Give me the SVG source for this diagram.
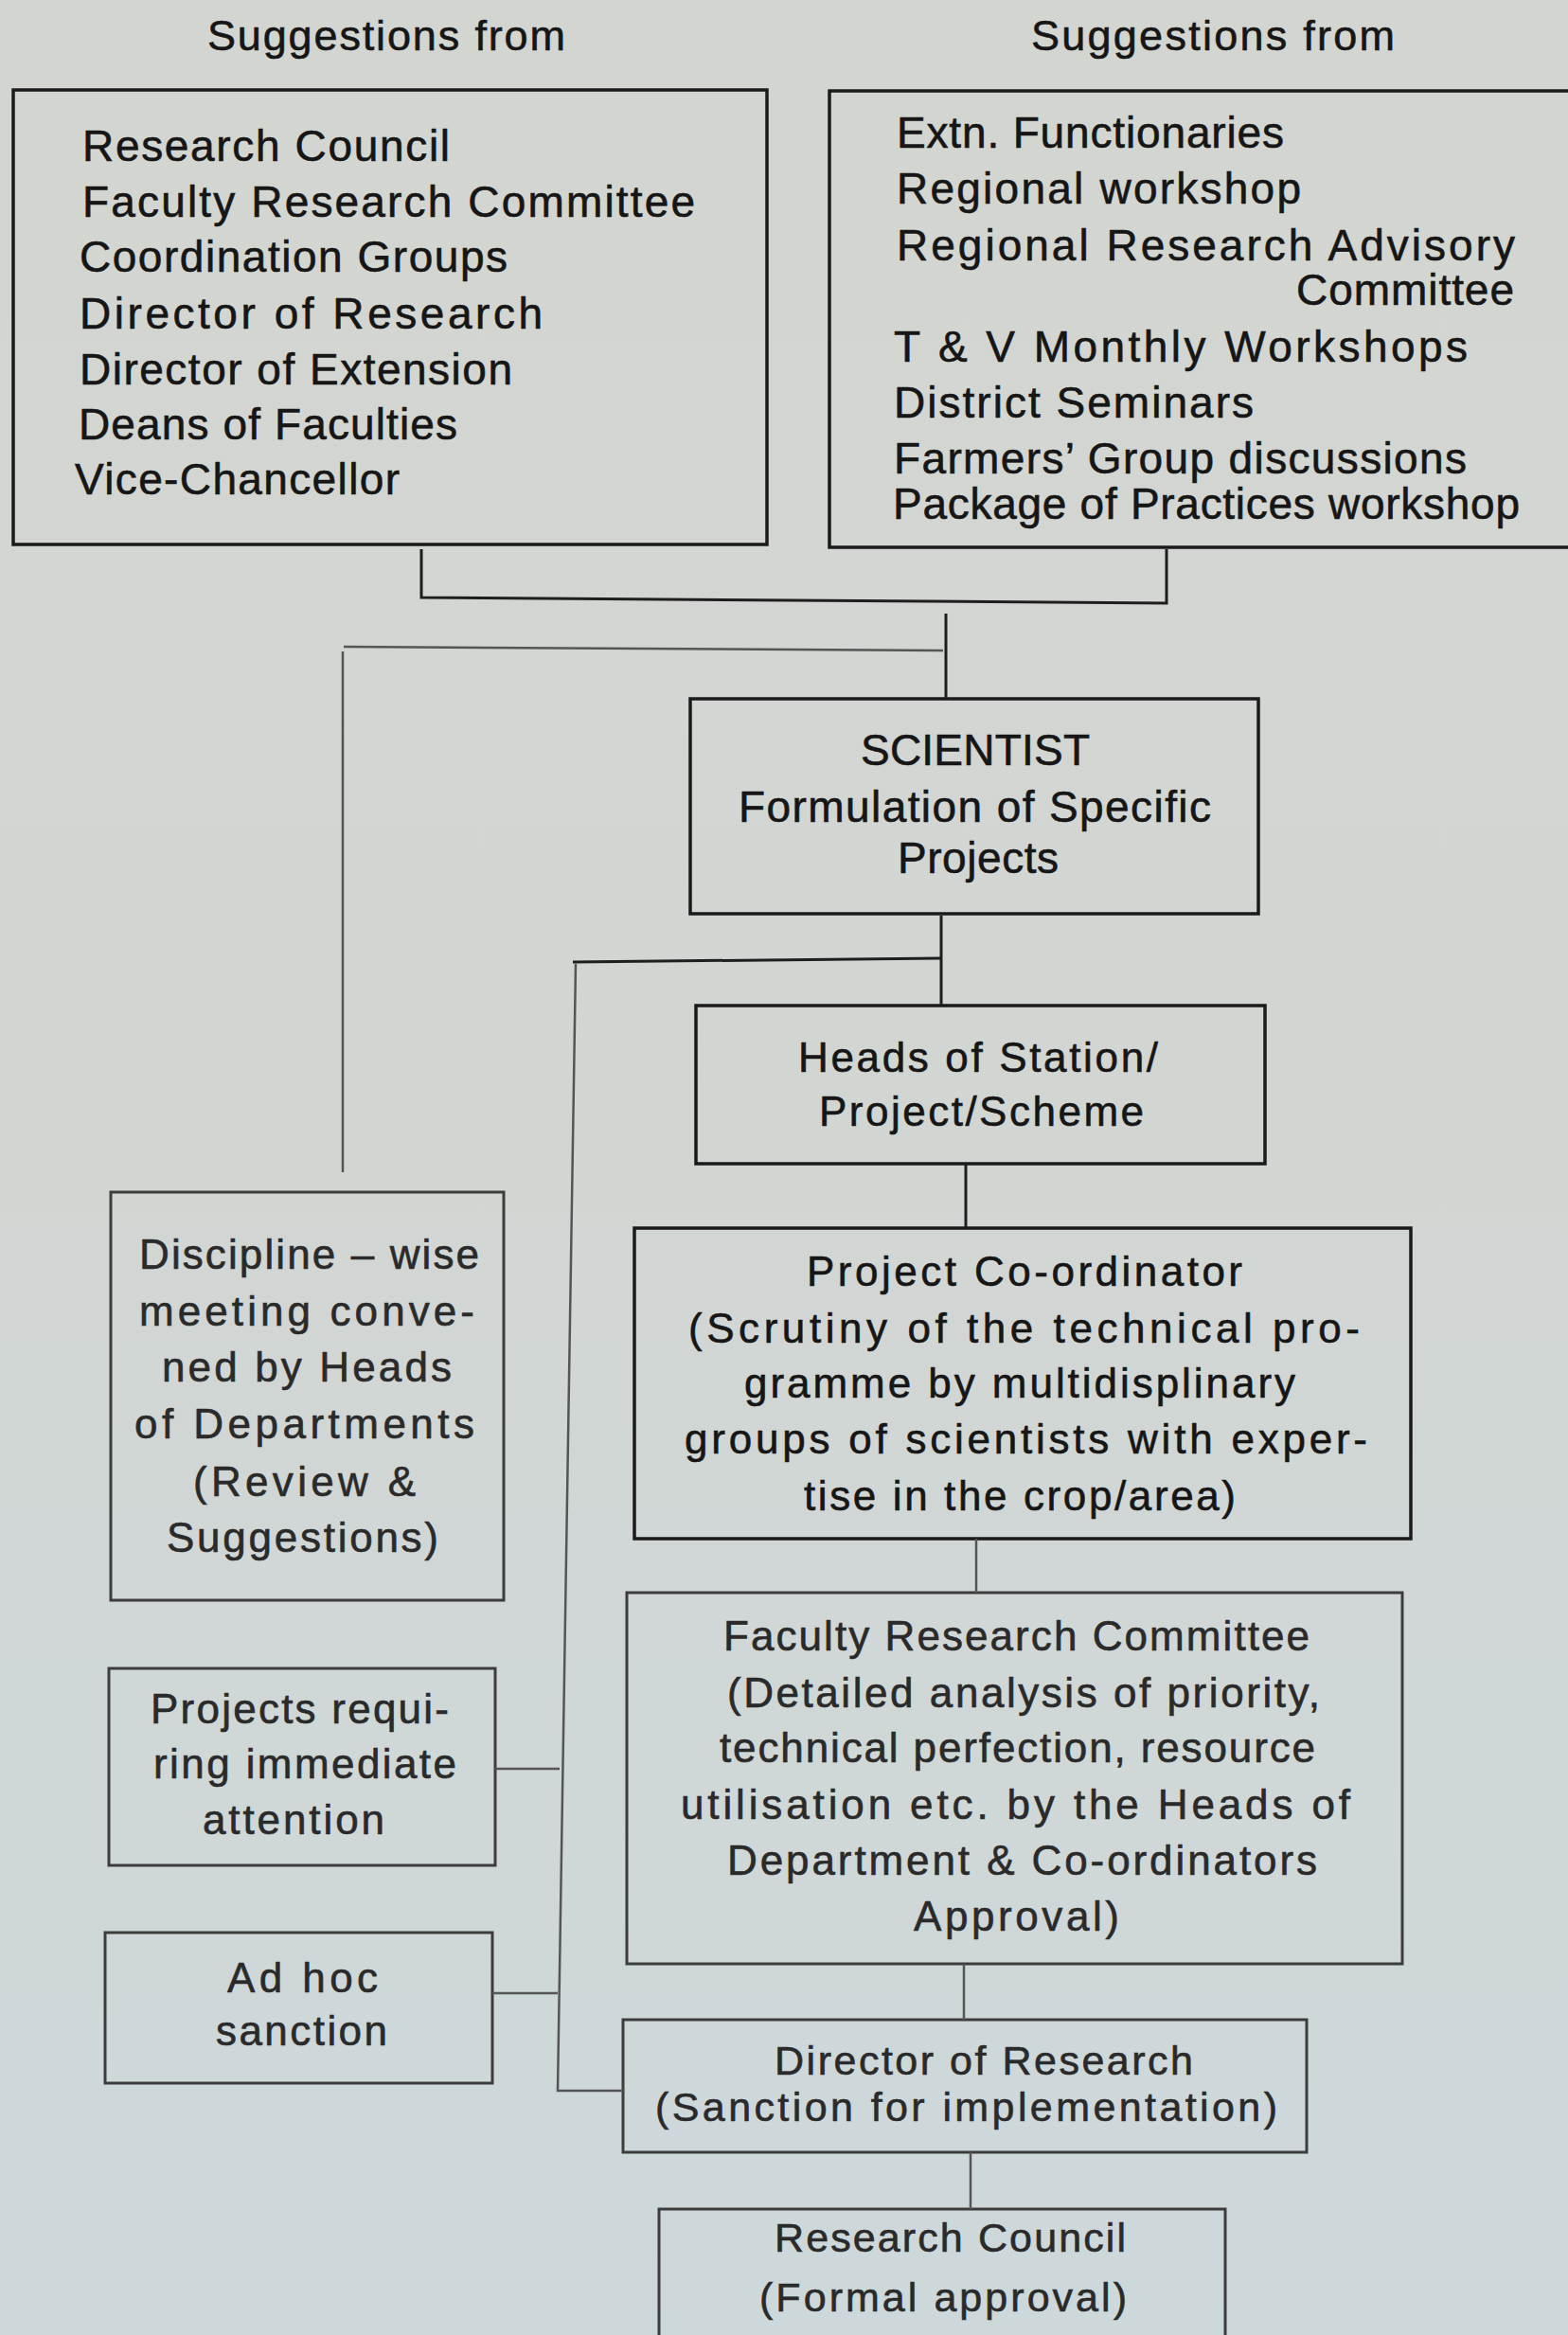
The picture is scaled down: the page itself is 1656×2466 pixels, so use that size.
<svg xmlns="http://www.w3.org/2000/svg" width="1656" height="2466" viewBox="0 0 1656 2466">
<defs>
<linearGradient id="bg" x1="0" y1="0" x2="0" y2="1">
<stop offset="0" stop-color="#d3d5d0"/>
<stop offset="0.5" stop-color="#d2d6d3"/>
<stop offset="1" stop-color="#cdd8db"/>
</linearGradient>
<style>
text{font-family:"Liberation Sans",Arial,Helvetica,sans-serif;fill:#161616;stroke:#161616;stroke-width:0.6;}
.t{font-size:45px;}
.l{font-size:46px;}
.m{font-size:44px;}
.s{font-size:43px;}
.lo{fill:#2a2a2a;stroke:#2a2a2a;}
.box{fill:none;stroke:#1a1a1a;stroke-width:3.5;}
.box2{fill:none;stroke:#3c3c3c;stroke-width:3;}
.con{fill:none;stroke:#1e1e1e;stroke-width:3;}
.con2{fill:none;stroke:#555;stroke-width:2.5;}
</style>
</defs>
<rect x="0" y="0" width="1656" height="2466" fill="url(#bg)"/>

<g id="title-left"><text class="t" x="219" y="53" textLength="378" lengthAdjust="spacing">Suggestions from</text></g>
<g id="title-right"><text class="t" x="1089" y="53" textLength="384" lengthAdjust="spacing">Suggestions from</text></g>

<g id="sources-university">
<rect class="box" x="14" y="95" width="796" height="480"/>
<text class="l" x="87" y="170" textLength="388" lengthAdjust="spacing">Research  Council</text>
<text class="l" x="87" y="229" textLength="647" lengthAdjust="spacing">Faculty  Research  Committee</text>
<text class="l" x="84" y="287" textLength="452" lengthAdjust="spacing">Coordination Groups</text>
<text class="l" x="84" y="347" textLength="489" lengthAdjust="spacing">Director   of   Research</text>
<text class="l" x="84" y="406" textLength="457" lengthAdjust="spacing">Director of  Extension</text>
<text class="l" x="83" y="464" textLength="400" lengthAdjust="spacing">Deans of Faculties</text>
<text class="l" x="79" y="522" textLength="343" lengthAdjust="spacing">Vice-Chancellor</text>
</g>

<g id="sources-extension">
<path class="box" d="M1680,96 H876 V578 H1680"/>
<text class="l" x="947" y="156" textLength="409" lengthAdjust="spacing">Extn. Functionaries</text>
<text class="l" x="947" y="215" textLength="427" lengthAdjust="spacing">Regional  workshop</text>
<text class="l" x="947" y="275" textLength="653" lengthAdjust="spacing">Regional   Research   Advisory</text>
<text class="l" x="1369" y="322" textLength="230" lengthAdjust="spacing">Committee</text>
<text class="l" x="944" y="382" textLength="606" lengthAdjust="spacing">T &amp; V Monthly  Workshops</text>
<text class="l" x="944" y="441" textLength="380" lengthAdjust="spacing">District  Seminars</text>
<text class="l" x="944" y="500" textLength="605" lengthAdjust="spacing">Farmers’  Group discussions</text>
<text class="l" x="943" y="548" textLength="662" lengthAdjust="spacing">Package of Practices workshop</text>
</g>

<g id="scientist">
<rect class="box" x="729" y="738" width="600" height="227"/>
<text class="l" x="909" y="808" textLength="242" lengthAdjust="spacing">SCIENTIST</text>
<text class="l" x="780" y="868" textLength="499" lengthAdjust="spacing">Formulation of Specific</text>
<text class="l" x="948" y="922" textLength="170" lengthAdjust="spacing">Projects</text>
</g>

<g id="heads">
<rect class="box" x="735" y="1062" width="601" height="167"/>
<text class="m" x="843" y="1132" textLength="380" lengthAdjust="spacing">Heads of Station/</text>
<text class="m" x="865" y="1189" textLength="343" lengthAdjust="spacing">Project/Scheme</text>
</g>

<g id="project-coordinator">
<rect class="box" x="670" y="1297" width="820" height="328"/>
<text class="m" x="852" y="1358" textLength="460" lengthAdjust="spacing">Project  Co-ordinator</text>
<text class="m" x="727" y="1418" textLength="709" lengthAdjust="spacing">(Scrutiny  of  the technical  pro-</text>
<text class="m" x="786" y="1476" textLength="582" lengthAdjust="spacing">gramme by multidisplinary</text>
<text class="m" x="723" y="1535" textLength="721" lengthAdjust="spacing">groups  of scientists with  exper-</text>
<text class="m" x="849" y="1595" textLength="456" lengthAdjust="spacing">tise in the crop/area)</text>
</g>

<g id="discipline-meeting">
<rect class="box2" x="117" y="1259" width="415" height="431"/>
<text class="m lo" x="147" y="1340" textLength="359" lengthAdjust="spacing">Discipline – wise</text>
<text class="m lo" x="147" y="1400" textLength="354" lengthAdjust="spacing">meeting  conve-</text>
<text class="m lo" x="171" y="1459" textLength="306" lengthAdjust="spacing">ned by Heads</text>
<text class="m lo" x="142" y="1519" textLength="359" lengthAdjust="spacing">of  Departments</text>
<text class="m lo" x="204" y="1580" textLength="235" lengthAdjust="spacing">(Review &amp;</text>
<text class="m lo" x="176" y="1639" textLength="287" lengthAdjust="spacing">Suggestions)</text>
</g>

<g id="faculty-research-committee">
<rect class="box2" x="662" y="1682" width="819" height="392"/>
<text class="m lo" x="764" y="1743" textLength="619" lengthAdjust="spacing">Faculty Research Committee</text>
<text class="m lo" x="768" y="1803" textLength="626" lengthAdjust="spacing">(Detailed analysis of priority,</text>
<text class="m lo" x="760" y="1861" textLength="629" lengthAdjust="spacing">technical perfection, resource</text>
<text class="m lo" x="719" y="1921" textLength="707" lengthAdjust="spacing">utilisation  etc.  by  the Heads of</text>
<text class="m lo" x="768" y="1980" textLength="623" lengthAdjust="spacing">Department &amp; Co-ordinators</text>
<text class="m lo" x="965" y="2039" textLength="217" lengthAdjust="spacing">Approval)</text>
</g>

<g id="projects-immediate">
<rect class="box2" x="115" y="1762" width="408" height="208"/>
<text class="m lo" x="159" y="1820" textLength="315" lengthAdjust="spacing">Projects  requi-</text>
<text class="m lo" x="162" y="1878" textLength="320" lengthAdjust="spacing">ring immediate</text>
<text class="m lo" x="214" y="1937" textLength="192" lengthAdjust="spacing">attention</text>
</g>

<g id="ad-hoc">
<rect class="box2" x="111" y="2041" width="409" height="159"/>
<text class="m lo" x="240" y="2104" textLength="159" lengthAdjust="spacing">Ad hoc</text>
<text class="m lo" x="228" y="2160" textLength="181" lengthAdjust="spacing">sanction</text>
</g>

<g id="director-research">
<rect class="box2" x="658" y="2133" width="722" height="140"/>
<text class="s lo" x="818" y="2191" textLength="442" lengthAdjust="spacing">Director of Research</text>
<text class="s lo" x="692" y="2240" textLength="657" lengthAdjust="spacing">(Sanction for implementation)</text>
</g>

<g id="research-council">
<path class="box2" d="M696,2480 V2333 H1294 V2480"/>
<text class="s lo" x="818" y="2378" textLength="371" lengthAdjust="spacing">Research Council</text>
<text class="s lo" x="802" y="2441" textLength="388" lengthAdjust="spacing">(Formal approval)</text>
</g>

<g id="connectors">
<path class="con" d="M445,580 V631 L1232,637 V580"/>
<path class="con" d="M999,648 V738"/>
<path class="con2" d="M363,683 L996,687"/>
<path class="con2" d="M362,688 V1238"/>
<path class="con" d="M994,967 V1062"/>
<path class="con" d="M605,1016 L994,1012"/>
<path class="con2" d="M608,1018 L589,2208 H658"/>
<path class="con" d="M1020,1230 V1297"/>
<path class="con2" d="M1031,1625 V1682"/>
<path class="con2" d="M523,1868 H591"/>
<path class="con2" d="M520,2105 H589"/>
<path class="con2" d="M1018,2074 V2133"/>
<path class="con2" d="M1025,2273 V2333"/>
</g>
</svg>
